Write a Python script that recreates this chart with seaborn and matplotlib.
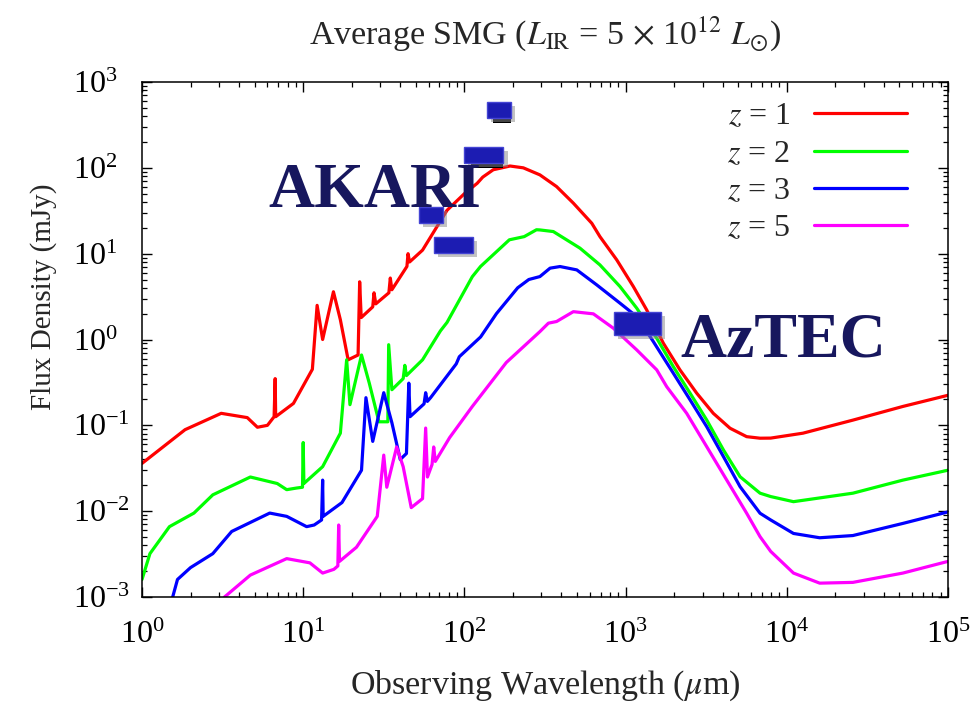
import matplotlib
matplotlib.use("Agg")
import numpy as np
import pandas as pd
import matplotlib.pyplot as plt
import seaborn as sns
from matplotlib.patches import Rectangle
from matplotlib.lines import Line2D
import matplotlib.patheffects as pe

# ---------------- data (wavelength in micron, flux density in mJy) ----------------
z1_wave = [1.0, 1.85, 3.1, 4.5, 5.2, 6.0, 6.6, 6.7, 6.75, 8.7, 11.4, 12.2, 13.2, 15.4, 17.0,
           19.0, 21.9, 22.4, 22.9, 27.0, 27.5, 28.2, 34.0, 34.7, 35.5, 44.0, 44.7, 45.7, 55.0,
           78.0, 100.0, 120.0, 130.0, 151.0, 192.0, 232.0, 294.0, 373.0, 474.0, 617.0, 693.0,
           881.0, 1117.0, 1352.0, 1714.0, 2173.0, 2761.0, 3499.0, 4446.0, 5636.0, 6823.0,
           7943.0, 12590.0, 25700.0, 52500.0, 100000.0]
z1_flux = [0.036, 0.089, 0.138, 0.123, 0.095, 0.10, 0.126, 0.35, 0.126, 0.18, 0.45, 2.5, 1.0,
           3.6, 1.7, 0.58, 0.66, 4.7, 1.8, 2.4, 3.5, 2.6, 3.5, 5.2, 3.8, 7.1, 10.0, 8.0, 11.0,
           32.0, 50.0, 66.0, 78.0, 95.0, 105.0, 100.0, 82.8, 60.5, 38.8, 22.6, 15.8, 8.47, 4.14,
           2.21, 0.906, 0.443, 0.237, 0.138, 0.0925, 0.0738, 0.0708, 0.071, 0.081, 0.115,
           0.166, 0.224]

z2_wave = [1.0, 1.12, 1.48, 2.1, 2.75, 4.7, 6.9, 7.9, 9.1, 9.9, 10.0, 10.1, 13.2, 17.0, 18.6,
           19.5, 23.0, 25.7, 29.5, 33.5, 33.9, 35.5, 41.7, 42.7, 43.7, 55.0, 71.0, 78.0, 112.0,
           126.0, 190.0, 235.0, 280.0, 294.0, 356.0, 521.0, 693.0, 923.0, 1172.0, 1560.0,
           1977.0, 2512.0, 3184.0, 4046.0, 5129.0, 6823.0, 7943.0, 11000.0, 25700.0, 52500.0,
           100000.0]
z2_flux = [0.0016, 0.0032, 0.0066, 0.0095, 0.0155, 0.025, 0.021, 0.0178, 0.0186, 0.019, 0.063,
           0.021, 0.033, 0.081, 0.58, 0.174, 0.66, 0.31, 0.11, 0.11, 0.87, 0.26, 0.35, 0.5, 0.38,
           0.58, 1.26, 1.58, 5.4, 7.1, 14.5, 15.8, 19.0, 18.9, 18.1, 11.6, 7.4, 4.14, 2.32,
           1.035, 0.483, 0.237, 0.1156, 0.0516, 0.0252, 0.0162, 0.0148, 0.0129, 0.0162, 0.023,
           0.030]

z3_wave = [1.55, 1.66, 2.0, 2.75, 3.6, 6.2, 7.9, 10.5, 11.7, 13.0, 13.2, 13.3, 17.4, 23.0,
           24.5, 27.0, 31.6, 35.5, 40.0, 43.7, 45.2, 46.0, 56.2, 57.5, 58.9, 61.7, 89.0, 93.0,
           126.0, 158.0, 214.0, 251.0, 294.0, 340.0, 392.0, 498.0, 662.0, 923.0, 1172.0,
           1486.0, 1977.0, 2512.0, 3184.0, 4046.0, 5129.0, 6823.0, 7943.0, 11000.0, 16000.0,
           25700.0, 52500.0, 100000.0]
z3_flux = [0.001, 0.0016, 0.0022, 0.0032, 0.0058, 0.0095, 0.0087, 0.0066, 0.0069, 0.0079, 0.023,
           0.0087, 0.0126, 0.030, 0.21, 0.065, 0.24, 0.107, 0.040, 0.047, 0.31, 0.126, 0.178,
           0.24, 0.19, 0.21, 0.52, 0.63, 1.07, 2.0, 4.0, 5.0, 5.41, 6.78, 7.08, 6.47, 4.33,
           2.65, 1.85, 0.946, 0.405, 0.198, 0.0966, 0.0432, 0.0193, 0.00946, 0.0079, 0.0055,
           0.0049, 0.0052, 0.0072, 0.0098]

z5_wave = [3.25, 4.7, 7.9, 11.0, 13.2, 15.5, 16.4, 16.6, 16.8, 21.4, 28.8, 31.6, 33.0, 38.0,
           41.7, 46.8, 55.0, 57.5, 59.0, 63.0, 64.5, 66.0, 81.0, 112.0, 182.0, 294.0, 332.0,
           373.0, 474.0, 631.0, 839.0, 1172.0, 1560.0, 1799.0, 2393.0, 3184.0, 4236.0, 5636.0,
           6823.0, 7943.0, 11000.0, 16000.0, 25700.0, 52500.0, 100000.0]
z5_flux = [0.001, 0.0018, 0.0028, 0.0025, 0.0019, 0.0021, 0.0023, 0.0069, 0.0026, 0.0038,
           0.0087, 0.045, 0.019, 0.056, 0.033, 0.011, 0.014, 0.093, 0.025, 0.035, 0.056, 0.038,
           0.072, 0.166, 0.54, 1.236, 1.55, 1.62, 2.11, 1.99, 1.355, 0.757, 0.443, 0.282,
           0.138, 0.0565, 0.0231, 0.00946, 0.00505, 0.0034, 0.0019, 0.00145, 0.00148, 0.0019,
           0.0026]

z_labels = ["$z$ = 1", "$z$ = 2", "$z$ = 3", "$z$ = 5"]
series_colors = ["#ff0000", "#00ff00", "#0000ff", "#ff00ff"]

# instrument band points (AKARI and AzTEC)
akari_wave = [62.0, 85.0, 132.0, 163.0]
akari_flux = [28.0, 12.6, 141.0, 473.0]
aztec_wave = [1180.0]
aztec_flux = [1.55]

# ---------------- build long table ----------------
frames = []
for lab, w, f in zip(z_labels, [z1_wave, z2_wave, z3_wave, z5_wave],
                     [z1_flux, z2_flux, z3_flux, z5_flux]):
    frames.append(pd.DataFrame({"wave": w, "flux": f, "z": lab}))
df = pd.concat(frames, ignore_index=True)

# ---------------- style ----------------
sns.set_style("ticks")
plt.rcParams["font.family"] = ["Liberation Serif", "DejaVu Serif"]
plt.rcParams["mathtext.fontset"] = "stix"
plt.rcParams["axes.linewidth"] = 1.1

fig = plt.figure(figsize=(9.73, 7.03), dpi=100)
ax = fig.add_axes([142 / 973, 1 - 597 / 703, 806 / 973, 515 / 703])

sns.lineplot(data=df, x="wave", y="flux", hue="z", palette=series_colors,
             sort=False, estimator=None, linewidth=2.3, ax=ax, legend=False)

ax.set_xscale("log")
ax.set_yscale("log")
ax.set_xlim(1, 1e5)
ax.set_ylim(1e-3, 1e3)

ax.tick_params(which="both", direction="in", top=True, right=True, colors="black")
ax.tick_params(which="major", length=7, width=1.0, labelsize=23)
ax.tick_params(which="minor", length=3.5, width=0.9)
ax.tick_params(axis="x", which="major", pad=17)
ax.tick_params(axis="y", which="major", pad=50)
for lbl in ax.get_yticklabels():
    lbl.set_horizontalalignment("left")
for s in ax.spines.values():
    s.set_color("black")

ax.set_xlabel(r"Observing Wavelength ($\mu$m)", fontsize=24.5)
ax.set_ylabel("Flux Density (mJy)", fontsize=21)
ax.xaxis.set_label_coords(0.5, -0.138)
ax.yaxis.set_label_coords(-0.106, 0.583)
ax.set_title(r"Average SMG ($L_{\rm IR}$ = 5 $\times$ 10$^{12}$ $L_{\odot}$)", fontsize=24.5, pad=27)

# legend
handles = [Line2D([0], [0], color=c, lw=2.3) for c in series_colors]
ax.legend(handles, z_labels, loc="upper right", bbox_to_anchor=(0.949, 0.961),
          frameon=False, markerfirst=False, fontsize=23, handlelength=2.9,
          handletextpad=0.75, labelspacing=0.25, borderpad=0.0, borderaxespad=0.0)

# band rectangles
rect_h = 0.186
shadow = [pe.withSimplePatchShadow(offset=(3, -3), shadow_rgbFace="#888888", alpha=0.5)]
face = "#1c1cb2"
edge = "#4444d4"


def band_rect(xc, yc, wdex, hdex, z=6):
    x0 = xc * 10 ** (-wdex / 2)
    x1 = xc * 10 ** (wdex / 2)
    y0 = yc * 10 ** (-hdex / 2)
    y1 = yc * 10 ** (hdex / 2)
    r = Rectangle((x0, y0), x1 - x0, y1 - y0, facecolor=face, edgecolor=edge,
                  linewidth=1.0, zorder=z, path_effects=shadow)
    ax.add_patch(r)


# small black bars peeking below the two upper AKARI boxes
for xc, yc, wdex in [(akari_wave[3], akari_flux[3], 0.149), (akari_wave[2], akari_flux[2], 0.242)]:
    x0 = xc * 10 ** (-wdex / 2 + 0.04)
    x1 = xc * 10 ** (wdex / 2)
    y0 = yc * 10 ** (-rect_h / 2 - 0.06)
    y1 = yc * 10 ** (-rect_h / 2 + 0.02)
    ax.add_patch(Rectangle((x0, y0), x1 - x0, y1 - y0, facecolor="black",
                           edgecolor="none", zorder=5))

for xc, yc, wd in zip(akari_wave, akari_flux, [0.149, 0.242, 0.242, 0.149]):
    band_rect(xc, yc, wd, rect_h)
for xc, yc in zip(aztec_wave, aztec_flux):
    band_rect(xc, yc, 0.29, 0.268)

ax.text(6.05, 35, "AKARI", fontsize=46, fontweight="bold", color="#17175e",
        ha="left", va="baseline", zorder=7)
ax.text(2175, 0.63, "AzTEC", fontsize=46, fontweight="bold", color="#17175e",
        ha="left", va="baseline", zorder=7)

fig.savefig("out.png", dpi=100)
